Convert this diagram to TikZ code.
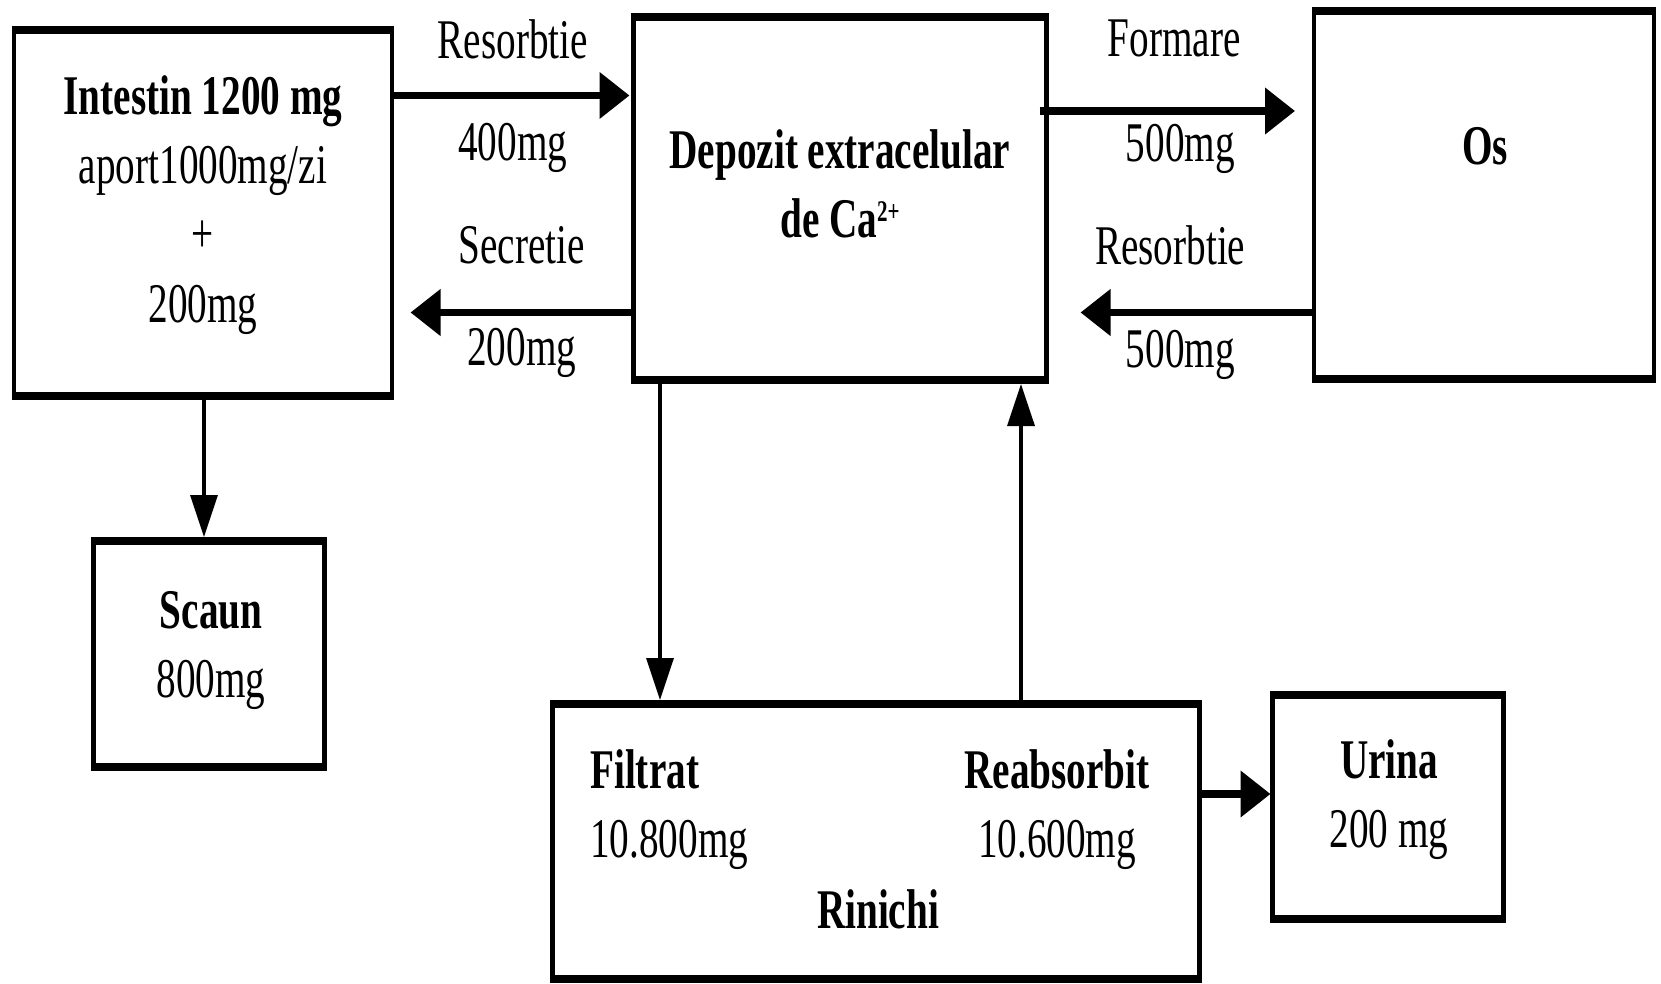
\documentclass[tikz,border=0pt]{standalone}
\usepackage{fontspec}
\setmainfont{Liberation Serif}[FakeStretch=0.7]
\usetikzlibrary{arrows.meta}

\begin{document}
\begin{tikzpicture}[
    x=1pt, y=-1pt,
    box/.style={draw, line width=4.5pt, inner sep=0pt, outer sep=0pt},
    txt/.style={font=\fontsize{56}{69}\selectfont, inner sep=0pt, anchor=base, align=center},
    harrow/.style={line width=7.5pt, -{Triangle[length=30pt,width=45pt]}},
    varrow/.style={line width=3.5pt, -{Triangle[length=42pt,width=27pt]}}
  ]
    \useasboundingbox (0,0) rectangle (1661,984);

    % boxes
    \node[box, minimum width=378pt, minimum height=365pt] (intestin) at (203,213) {};
    \node[box, minimum width=413pt, minimum height=363pt] (depozit) at (840,198.5) {};
    \node[box, minimum width=340pt, minimum height=368pt] (os) at (1484,195) {};
    \node[box, minimum width=231pt, minimum height=226pt] (scaun) at (209,654) {};
    \node[box, minimum width=647pt, minimum height=275pt] (rinichi) at (876,841.5) {};
    \node[box, minimum width=231pt, minimum height=224pt] (urina) at (1388,807) {};
    \foreach \b in {intestin,depozit,os,scaun,rinichi,urina} {
      \draw[line width=8pt] ([xshift=-2.25pt]\b.north west) -- ([xshift=2.25pt]\b.north east);
      \draw[line width=8pt] ([xshift=-2.25pt]\b.south west) -- ([xshift=2.25pt]\b.south east);
    }

    % box texts (base = last line)
    \node[txt] (intestin-t) at (203,322) {\textbf{Intestin 1200 mg}\\aport1000mg/zi\\+\\200mg};
    \node[txt] (depozit-t) at (840,238) {\textbf{Depozit extracelular}\\\textbf{de Ca\raisebox{17pt}{\fontsize{30}{30}\selectfont 2+}}};
    \node[txt] (os-t) at (1485,165) {\textbf{Os}};
    \node[txt] (scaun-t) at (211,697) {\textbf{Scaun}\\800mg};
    \node[txt, anchor=base west, align=left] (filtrat) at (590,857) {\textbf{Filtrat}\\10.800mg};
    \node[txt] (reabsorbit) at (1057,857) {\textbf{Reabsorbit}\\10.600mg};
    \node[txt] (rinichi-t) at (878,928) {\textbf{Rinichi}};
    \node[txt] (urina-t) at (1389,847) {\textbf{Urina}\\200 mg};

    % connectors
    \draw[harrow, shorten >=4pt] (intestin.east |- 0,95.5) -- (depozit.west |- 0,95.5)
      node[txt, midway, yshift=37pt] {Resorbtie} node[txt, midway, yshift=-65pt] {400mg};
    \draw[harrow, shorten >=18.5pt] (depozit.west |- 0,312.5) -- (intestin.east |- 0,312.5)
      node[txt, midway, xshift=9pt, yshift=49.5pt] {Secretie} node[txt, midway, xshift=9pt, yshift=-52.5pt] {200mg};
    \draw[harrow, shorten <=-7pt, shorten >=19pt] (depozit.east |- 0,111) -- (os.west |- 0,111)
      node[txt, midway, xshift=-6pt, yshift=54pt] {Formare} node[txt, midway, yshift=-51pt] {500mg};
    \draw[harrow, shorten >=34pt] (os.west |- 0,312.5) -- (depozit.east |- 0,312.5)
      node[txt, midway, xshift=-10pt, yshift=47.5pt] {Resorbtie} node[txt, midway, yshift=-54.5pt] {500mg};
    \draw[varrow, shorten >=4pt] (204,0 |- intestin.south) -- (204,0 |- scaun.north);
    \draw[varrow, shorten >=4pt] (660,0 |- depozit.south) -- (660,0 |- rinichi.north);
    \draw[varrow, shorten >=4pt] (1021,0 |- rinichi.north) -- (1021,0 |- depozit.south);
    \draw[harrow, shorten >=2pt] (rinichi.east |- 0,794) -- (urina.west |- 0,794);
  \end{tikzpicture}
\end{document}
